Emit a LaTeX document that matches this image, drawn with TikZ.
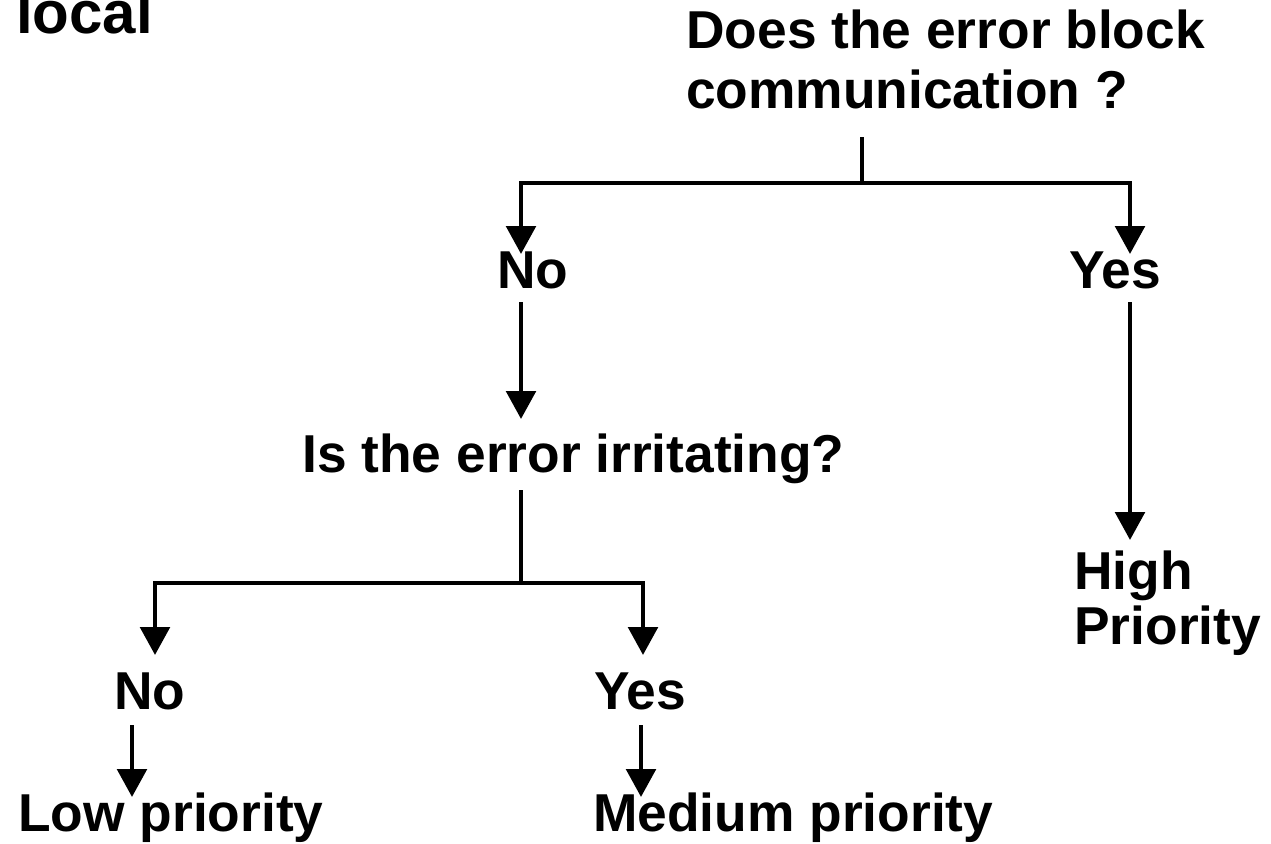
\documentclass[tikz,border=0pt]{standalone}
\usepackage{fontspec}
\setmainfont{Liberation Sans}
\usetikzlibrary{arrows.meta}
\begin{document}
\begin{tikzpicture}[x=0.75pt,y=-0.75pt,
  lbl/.style={anchor=base west,inner sep=0pt,font=\fontsize{40}{48}\selectfont\bfseries},
  ln/.style={line width=3.5pt,line join=miter},
  arr/.style={line width=3.5pt,line join=miter,-{Triangle[width=22pt,length=21pt]}}]
\useasboundingbox (0,0) rectangle (1271,843);
% texts
\node[lbl,font=\fontsize{45}{50}\selectfont\bfseries] (local) at (16,33) {local};
\node[lbl] (q1a) at (686,48) {Does the error block};
\node[lbl] (q1b) at (686,108) {communication ?};
\node[lbl] (no1) at (497,288) {No};
\node[lbl] (yes1) at (1069,288) {Yes};
\node[lbl] (q2) at (302,472) {Is the error irritating?};
\node[lbl] (no2) at (114,709) {No};
\node[lbl] (yes2) at (594,709) {Yes};
\node[lbl] (low) at (18,831) {Low priority};
\node[lbl] (med) at (593,831) {Medium priority};
\node[lbl] (higha) at (1074,589) {High};
\node[lbl] (highb) at (1074,644) {Priority};
% connector points
\coordinate (q1s) at (862,137);
\coordinate (j1) at (862,183);
\coordinate (no1t) at (521,254);
\coordinate (yes1t) at (1130,254);
\coordinate (no1s) at (521,302);
\coordinate (q2t) at (521,419);
\coordinate (q2s) at (521,490);
\coordinate (j2) at (521,583);
\coordinate (no2t) at (155,655);
\coordinate (yes2t) at (643,655);
\coordinate (no2s) at (132,725);
\coordinate (lowt) at (132,797);
\coordinate (yes2s) at (641,725);
\coordinate (medt) at (641,797);
\coordinate (yes1s) at (1130,302);
\coordinate (hight) at (1130,540);
% connectors
\draw[ln] (q1s) -- (j1);
\draw[arr] (j1) -| (no1t);
\draw[arr] (j1) -| (yes1t);
\draw[arr] (no1s) -- (q2t);
\draw[ln] (q2s) -- (j2);
\draw[arr] (j2) -| (no2t);
\draw[arr] (j2) -| (yes2t);
\draw[arr] (no2s) -- (lowt);
\draw[arr] (yes2s) -- (medt);
\draw[arr] (yes1s) -- (hight);
\end{tikzpicture}
\end{document}
